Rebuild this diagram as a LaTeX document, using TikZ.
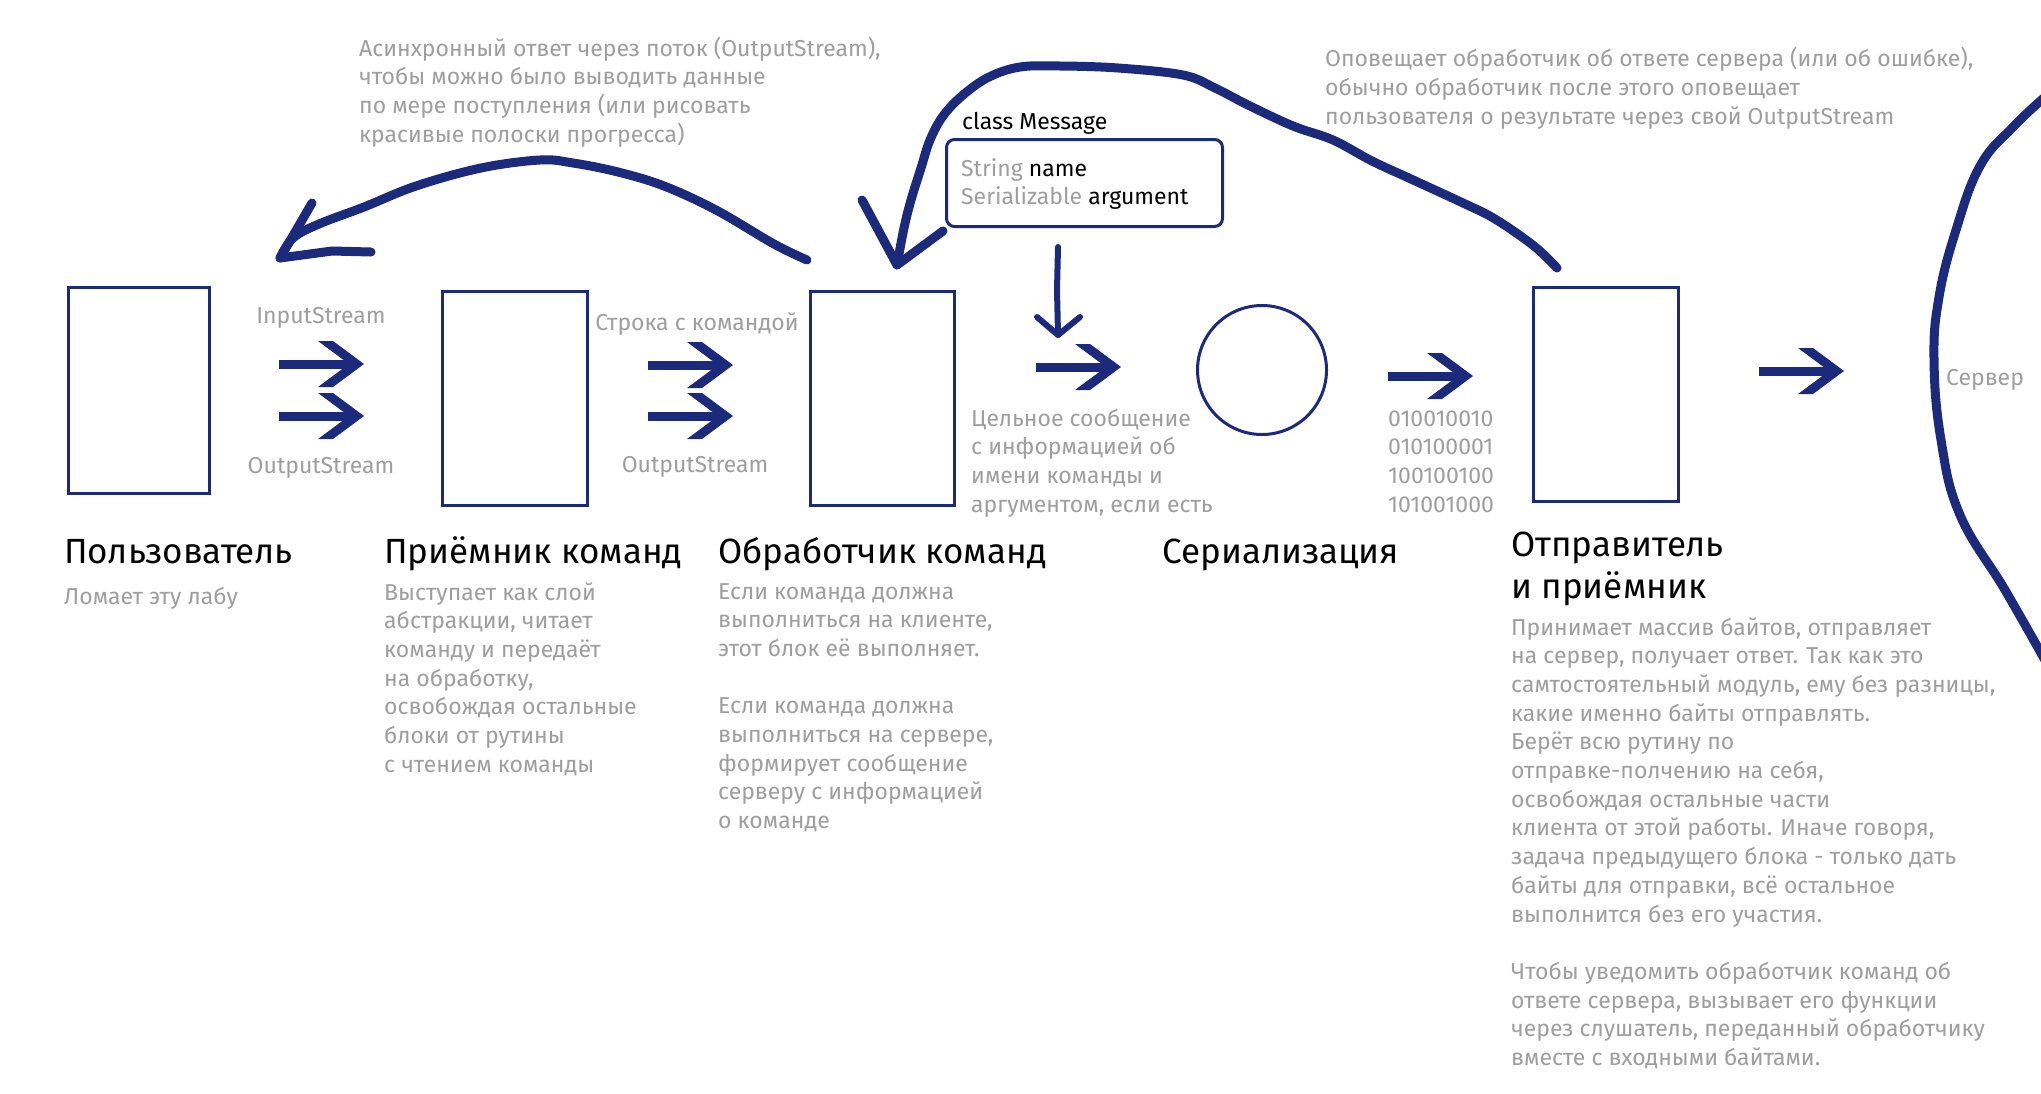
\documentclass[tikz,border=0pt]{standalone}
\usepackage{fontspec}
\setmainfont{Fira Sans}
\definecolor{navy}{RGB}{27,42,122}
\definecolor{txtgray}{RGB}{158,158,158}
\tikzset{
  blockbox/.style={draw=navy, line width=3pt, inner sep=0pt, rectangle},
  gtext/.style={anchor=base west, inner sep=0pt, align=left, text=txtgray, font=\fontsize{23}{28.7}\selectfont},
  ctext/.style={anchor=base, inner sep=0pt, text=txtgray, font=\fontsize{23}{28.7}\selectfont},
  btext/.style={anchor=base west, inner sep=0pt, align=left, text=black, font=\fontsize{23}{28.7}\selectfont},
  title/.style={anchor=base west, inner sep=0pt, align=left, text=black, font=\fontsize{35}{42}\selectfont},
  hand/.style={draw=navy, line width=9pt, line cap=round, line join=round},
  thinhand/.style={draw=navy, line width=6pt, line cap=round, line join=round},
  blockarr/.pic={
    \fill[navy] (0,-4.5) rectangle (71,4.5);
    \fill[navy] (39,-23) -- (54,-23) -- (85,0) -- (54,23) -- (39,23) -- (70,0) -- cycle;
  }
}
\begin{document}
\begin{tikzpicture}[x=1pt,y=-1pt]
\useasboundingbox (0,0) rectangle (2041,1093);
\fill[white] (0,0) rectangle (2041,1093);

% boxes
\node[blockbox, minimum width=141pt, minimum height=206pt] (user) at (139,390.5) {};
\node[blockbox, minimum width=145pt, minimum height=214pt] (recv) at (515,398.5) {};
\node[blockbox, minimum width=144pt, minimum height=214pt] (handler) at (882.5,398.5) {};
\node[draw=navy, line width=3pt, circle, minimum size=129pt, inner sep=0pt] (ser) at (1262,370) {};
\node[blockbox, minimum width=145pt, minimum height=214pt] (sender) at (1606,394.5) {};
\node[blockbox, rounded corners=8pt, minimum width=276pt, minimum height=87pt] (msg) at (1084.5,183) {};

% block arrows
\pic at (279,364) {blockarr};
\pic at (279,416) {blockarr};
\pic at (648,365) {blockarr};
\pic at (648,416) {blockarr};
\pic at (1036,367) {blockarr};
\pic at (1388,376) {blockarr};
\pic at (1759,371) {blockarr};

% down arrow from class Message
\coordinate (dtop) at (1058,247);
\coordinate (dtip) at (1058,335);
\draw[thinhand] (dtop) -- (1057,290) -- (dtip);
\draw[thinhand] (1037,317) -- (dtip) -- (1080,317);

% hand-drawn curve handler -> user
\draw[hand] plot[smooth, tension=0.6] coordinates {(807,260) (774,244) (716,210) (664,186) (618,172) (573,163) (540,160) (481,168) (416,186) (364,207) (319,224) (293,238) (280,258)};
\draw[hand] (312,203) -- (280,258) -- (332,251) -- (371,252);

% hand-drawn curve sender -> handler
\draw[hand] plot[smooth, tension=0.6] coordinates {(1557,268) (1534,246) (1495,219) (1463,203) (1411,179) (1372,161) (1333,140) (1293,126) (1248,105) (1215,88) (1183,75) (1118,68) (1060,66) (1020,67) (989,77) (963,95) (943,116) (930,140) (921,168) (911,200) (904,228) (897,265)};
\draw[hand] (862,200) -- (897,265) -- (943,231);

% server arc
\draw[hand] plot[smooth, tension=0.7] coordinates {(2046,96) (2013,127) (1980,166) (1956,230) (1939,297) (1934,360) (1941,440) (1960,515) (2005,590) (2046,662)};

% annotations (anchor = baseline of last line)
\node[gtext] (noteL) at (359,142.1) {Асинхронный ответ через поток (OutputStream),\\чтобы можно было выводить данные\\по мере поступления (или рисовать\\красивые полоски прогресса)};
\node[gtext] (noteR) at (1325,124) {Оповещает обработчик об ответе сервера (или об ошибке),\\обычно обработчик после этого оповещает\\пользователя о результате через свой OutputStream};

\node[btext] (msgtitle) at (962,129) {class Message};
\node[btext] (msgbody) at (961,204.7) {{\color{txtgray}String} name\\{\color{txtgray}Serializable} argument};

\node[ctext] (in1) at (321,323) {InputStream};
\node[ctext] (out1) at (321,473) {OutputStream};
\node[ctext] (cmdstr) at (697,330) {Строка с командой};
\node[ctext] (out2) at (695,472) {OutputStream};
\node[gtext] (whole) at (971,512.1) {Цельное сообщение\\с информацией об\\имени команды и\\аргументом, если есть};
\node[gtext] (bin) at (1388,512.1) {010010010\\010100001\\100100100\\101001000};
\node[gtext] (srv) at (1946,385) {Сервер};

% titles
\node[title] (t1) at (64,563) {Пользователь};
\node[title] (t2) at (384,563) {Приёмник команд};
\node[title] (t3) at (718,563) {Обработчик команд};
\node[title] (t4) at (1162,563) {Сериализация};
\node[title] (t5) at (1511,598.5) {Отправитель\\и приёмник};

% descriptions
\node[gtext] (d1) at (64,604) {Ломает эту лабу};
\node[gtext] (d2) at (384,772.2) {Выступает как слой\\абстракции, читает\\команду и передаёт\\на обработку,\\освобождая остальные\\блоки от рутины\\с чтением команды};
\node[gtext] (d3) at (718,828.6) {Если команда должна\\выполниться на клиенте,\\этот блок её выполняет.\\[28.7pt]Если команда должна\\выполниться на сервере,\\формирует сообщение\\серверу с информацией\\о команде};
\node[gtext] (d5) at (1511,1065.5) {Принимает массив байтов, отправляет\\на сервер, получает ответ. Так как это\\самтостоятельный модуль, ему без разницы,\\какие именно байты отправлять.\\Берёт всю рутину по\\отправке-полчению на себя,\\освобождая остальные части\\клиента от этой работы. Иначе говоря,\\задача предыдущего блока - только дать\\байты для отправки, всё остальное\\выполнится без его участия.\\[28.7pt]Чтобы уведомить обработчик команд об\\ответе сервера, вызывает его функции\\через слушатель, переданный обработчику\\вместе с входными байтами.};
\end{tikzpicture}
\end{document}
